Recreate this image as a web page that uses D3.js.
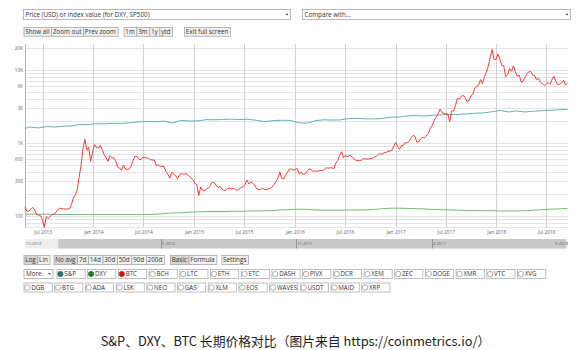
<!DOCTYPE html>
<html>
<head>
<meta charset="utf-8">
<script src="https://cdn.jsdelivr.net/npm/d3@7"></script>
<style>
  html, body { margin: 0; padding: 0; background: #fff; }
  svg { display: block; font-family: "Open Sans", "DejaVu Sans", sans-serif; }
</style>
</head>
<body>
<svg id="chart" width="580" height="350"></svg>
<script>
// ---------- data ----------
const priceOptionLabel = "Price (USD) or index value (for DXY, SP500)";
const compareLabel = "Compare with...";
const zoomButtons = ["Show all", "Zoom out", "Prev zoom"];
const periodButtons = ["1m", "3m", "1y", "ytd"];
const screenButtons = ["Exit full screen"];
const scaleButtons = ["Log", "Lin"];
const avgButtons = ["No avg", "7d", "14d", "30d", "50d", "90d", "200d"];
const modeButtons = ["Basic", "Formula"];
const settingsButtons = ["Settings"];
const moreLabel = "More";
const assetRow1 = ["S&P", "DXY", "BTC", "BCH", "LTC", "ETH", "ETC", "DASH", "PIVX", "DCR", "XEM", "ZEC", "DOGE", "XMR", "VTC", "XVG"];
const assetRow2 = ["DGB", "BTG", "ADA", "LSK", "NEO", "GAS", "XLM", "EOS", "WAVES", "USDT", "MAID", "XRP"];
const activeAssets = ["S&P", "DXY", "BTC"];

const yTickValues = [100, 300, 600, 1000, 3000, 6000, 10000, 20000];
const rangeTickDates = ["2012-12-20", "2014-05-31", "2015-11-07", "2017-04-18", "2018-09-28"];

const seriesStart = "2013-04-28";
const seriesEnd = "2018-09-16";

// S&P 500 and DXY: first day, mid-month May 2013 .. Aug 2018, last day
const spx = [
  1590, 1650, 1610, 1680, 1660, 1700, 1720, 1795, 1790,
  1840, 1830, 1860, 1860, 1890, 1950, 1975, 1950, 1995, 1880, 2040, 2000,
  2010, 2090, 2080, 2100, 2120, 2100, 2110, 2050, 1960, 2030, 2050, 2040,
  1900, 1860, 2020, 2080, 2060, 2070, 2160, 2180, 2140, 2140, 2180, 2260,
  2270, 2350, 2380, 2340, 2400, 2430, 2460, 2460, 2500, 2560, 2580, 2675,
  2790, 2660, 2750, 2660, 2720, 2770, 2800, 2850, 2905
];
const dxy = [
  106, 106, 106, 106, 105, 105, 105, 105, 105,
  105, 105, 105, 105, 105, 105, 105, 106, 108, 110, 111, 113,
  114, 115, 115, 115, 116, 116, 117, 117, 118, 119, 121, 122,
  124, 123, 121, 120, 120, 120, 121, 121, 121, 123, 126, 128,
  128, 127, 126, 125, 123, 122, 121, 120, 119, 119, 118, 118,
  117, 117, 117, 118, 120, 122, 124, 125, 127
];

// BTC weekly closes, one list per year with the date of its first week
const btc2013 = [
  135, 115, 117, 123, 131,
  122, 105, 103, 102, 90,
  70, 98, 92, 98,
  105, 105, 113, 122,
  128, 126, 126, 124, 125,
  125, 143, 175, 195,
  225, 335, 490, 820,
  1130, 800, 870, 560, 740
];
const btc2014 = [
  950, 870, 850, 920,
  820, 690, 630, 560,
  670, 630, 625, 570, 470,
  455, 420, 500, 440,
  435, 440, 485, 580,
  660, 655, 600, 590, 635,
  630, 625, 620, 590,
  585, 585, 490, 505, 480,
  480, 475, 405, 375,
  330, 395, 385, 355,
  325, 365, 385, 370, 380,
  375, 350, 330, 315
];
const btc2015 = [
  280, 270, 190, 250,
  225, 220, 235, 240,
  260, 290, 285, 265, 245,
  255, 235, 225, 225,
  240, 240, 235, 240, 230,
  225, 235, 245, 255,
  270, 310, 275, 290,
  280, 265, 235, 230, 230,
  240, 230, 230, 235,
  240, 250, 270, 295,
  330, 400, 330, 320, 365,
  395, 440, 440, 425
];
const btc2016 = [
  430, 450, 380, 395, 375,
  375, 405, 440, 435,
  410, 415, 410, 415,
  420, 420, 430, 460,
  450, 458, 455, 445, 530,
  575, 680, 760, 630,
  670, 650, 675, 660, 625,
  590, 570, 580, 575,
  610, 605, 605, 605,
  610, 618, 640, 655, 700,
  710, 705, 735, 740,
  765, 780, 790, 895
];
const btc2017 = [
  1020, 900, 820, 920, 920,
  1020, 1000, 1060, 1180,
  1270, 1230, 1020, 1040,
  1140, 1200, 1180, 1250, 1350,
  1600, 1750, 2050, 2250,
  2500, 2900, 2600, 2550,
  2500, 2500, 1950, 2750, 2750,
  3250, 4100, 4000, 4350,
  4500, 4150, 3700, 3800,
  4400, 4700, 5700, 6000, 6150,
  7400, 6500, 8200, 9300,
  11300, 15000, 19100, 13900, 14000
];
const btc2018 = [
  16500, 14200, 11500, 11400,
  8100, 8600, 10400, 9600,
  11400, 9500, 8200, 8500,
  6850, 7000, 8000, 8900, 9400,
  9600, 8500, 8400, 7350,
  7700, 6800, 6500, 6150,
  6350, 6750, 6350, 7400, 8200,
  7000, 6300, 6400, 6700,
  7200, 6250, 6500
];
const btcYears = [
  ["2013-04-28", btc2013],
  ["2014-01-05", btc2014],
  ["2015-01-04", btc2015],
  ["2016-01-03", btc2016],
  ["2017-01-01", btc2017],
  ["2018-01-07", btc2018]
];

// ---------- build series ----------
const parse = d3.utcParse("%Y-%m-%d");
const start = parse(seriesStart), end = parse(seriesEnd);

function indexDates(n) {
  const out = [start];
  for (let i = 0; i < n - 2; i++) out.push(d3.utcMonth.offset(new Date(Date.UTC(2013, 4, 15)), i));
  out.push(end);
  return out;
}
const idxDates = indexDates(spx.length);
const spxSeries = spx.map((v, i) => ({ date: idxDates[i], value: v }));
const dxySeries = dxy.map((v, i) => ({ date: idxDates[i], value: v }));
const btcSeries = [];
btcYears.forEach(([d0, vals]) => {
  const s = parse(d0);
  vals.forEach((v, i) => btcSeries.push({ date: d3.utcDay.offset(s, 7 * i), value: v }));
});

// ---------- layout ----------
const svg = d3.select("#chart");
const plot = { left: 25, right: 568, top: 44, bottom: 228 };

const x = d3.scaleUtc().domain([start, parse("2018-09-18")]).range([plot.left, plot.right]);
const y = d3.scaleLog().domain([68.5, 22700]).range([plot.bottom, plot.top]);

// ---------- grid ----------
const grid = svg.append("g");
const minorValues = [];
for (let p = 1; p <= 4; p++) for (let k = 1; k <= 9; k++) {
  const v = k * Math.pow(10, p);
  if (v >= 68.5 && v <= 22700) minorValues.push(v);
}
grid.selectAll("line.h").data(minorValues).join("line")
  .attr("x1", plot.left).attr("x2", plot.right)
  .attr("y1", d => Math.round(y(d)) + 0.5).attr("y2", d => Math.round(y(d)) + 0.5)
  .attr("stroke", "#e4e4e4").attr("stroke-width", 1);

const xTicks = d3.utcMonth.every(6).range(parse("2013-05-01"), parse("2018-09-01"));
grid.selectAll("line.v").data(xTicks).join("line")
  .attr("x1", d => Math.round(x(d)) + 0.5).attr("x2", d => Math.round(x(d)) + 0.5)
  .attr("y1", plot.top).attr("y2", plot.bottom)
  .attr("stroke", "#d2d2d2").attr("stroke-width", 1);

// y axis line
svg.append("line")
  .attr("x1", plot.left + 0.5).attr("x2", plot.left + 0.5)
  .attr("y1", plot.top).attr("y2", plot.bottom)
  .attr("stroke", "#b8b8b8");

// ---------- axes ----------
const fmtY = d => d >= 1000 ? (d / 1000) + "K" : String(d);
const yAxis = svg.append("g").attr("transform", `translate(${plot.left - 2},0)`)
  .call(d3.axisLeft(y).tickValues(yTickValues).tickFormat(fmtY).tickSize(0).tickPadding(0));
yAxis.select(".domain").remove();
yAxis.selectAll("text").attr("font-size", 4.7).attr("fill", "#666")
  .attr("font-family", "'Open Sans', sans-serif");

const xAxis = svg.append("g").attr("transform", `translate(0,${plot.bottom + 1})`)
  .call(d3.axisBottom(x).tickValues(xTicks).tickFormat(d3.utcFormat("%b %Y")).tickSize(0).tickPadding(2));
xAxis.select(".domain").remove();
xAxis.selectAll("text").attr("font-size", 4.8).attr("fill", "#666")
  .attr("font-family", "'Open Sans', sans-serif");

// ---------- lines ----------
const line = d3.line().x(d => x(d.date)).y(d => y(d.value));
svg.append("path").datum(dxySeries).attr("d", line)
  .attr("fill", "none").attr("stroke", "#62b862").attr("stroke-width", 0.9);
svg.append("path").datum(spxSeries).attr("d", line)
  .attr("fill", "none").attr("stroke", "#4eabab").attr("stroke-width", 0.9);
svg.append("path").datum(btcSeries).attr("d", line)
  .attr("fill", "none").attr("stroke", "#f23030").attr("stroke-width", 0.95)
  .attr("stroke-linejoin", "round");

// ---------- range selector ----------
const xr = d3.scaleUtc().domain([parse(rangeTickDates[0]), parse(rangeTickDates[rangeTickDates.length - 1])])
  .range([plot.left, plot.right]);
const sel = svg.append("g");
sel.append("rect").attr("x", plot.left).attr("y", 239).attr("width", plot.right - plot.left).attr("height", 9.5)
  .attr("fill", "#eeeeee");
sel.append("rect").attr("x", xr(start)).attr("y", 239).attr("width", xr(end) - xr(start) + 1).attr("height", 9.5)
  .attr("fill", "#c9c9c9");
const rTicks = rangeTickDates.map(parse);
sel.selectAll("line").data(rTicks.slice(1, -1)).join("line")
  .attr("x1", d => Math.round(xr(d)) + 0.5).attr("x2", d => Math.round(xr(d)) + 0.5)
  .attr("y1", 239).attr("y2", 248.5).attr("stroke", "#8a8a8a").attr("stroke-width", 0.8);
sel.selectAll("text").data(rTicks).join("text")
  .attr("x", (d, i) => i === rTicks.length - 1 ? xr(d) : xr(d) + 1)
  .attr("y", 245.3)
  .attr("text-anchor", (d, i) => i === rTicks.length - 1 ? "end" : "start")
  .attr("font-size", 4.1).attr("fill", "#666")
  .text(d3.utcFormat("%-m-%Y"));

// ---------- controls ----------
const ui = svg.append("g").attr("font-size", 6.3).attr("fill", "#333");

function caret(g, cx, cy) {
  g.append("path").attr("d", `M${cx - 1.3},${cy - 0.7}L${cx + 1.3},${cy - 0.7}L${cx},${cy + 0.9}Z`).attr("fill", "#222");
}
function selectBox(g, x0, y0, w, h, label) {
  g.append("rect").attr("x", x0 + 0.5).attr("y", y0 + 0.5).attr("width", w).attr("height", h)
    .attr("fill", "#fff").attr("stroke", "#a9a9a9").attr("stroke-width", 0.8);
  g.append("text").attr("x", x0 + 2.5).attr("y", y0 + h / 2 + 2.6).text(label);
  caret(g, x0 + w - 3, y0 + h / 2 + 0.5);
}
function buttonGroup(g, labels, x0, y0, h, active, pad) {
  let cx = x0;
  labels.forEach(lab => {
    const t = g.append("text").attr("y", y0 + h / 2 + 2.2).text(lab);
    const w = t.node().getComputedTextLength() + 2 * pad;
    g.insert("rect", "text").attr("x", cx + 0.5).attr("y", y0 + 0.5).attr("width", w).attr("height", h)
      .attr("fill", active.includes(lab) ? "#d5d5d5" : "#f0f0f0")
      .attr("stroke", "#a9a9a9").attr("stroke-width", 0.8);
    t.attr("x", cx + pad);
    cx += w;
  });
  return cx;
}

selectBox(ui, 23, 9, 267, 10, priceOptionLabel);
selectBox(ui, 302, 9, 268, 10, compareLabel);

let bx = buttonGroup(ui, zoomButtons, 23.5, 27, 8.8, [], 1.7);
bx = buttonGroup(ui, periodButtons, bx + 6, 27, 8.8, [], 1.7);
buttonGroup(ui, screenButtons, bx + 12, 27, 8.8, [], 1.7);

bx = buttonGroup(ui, scaleButtons, 23.5, 255, 9, ["Log"], 1.7);
bx = buttonGroup(ui, avgButtons, bx + 4, 255, 9, ["No avg"], 1.7);
bx = buttonGroup(ui, modeButtons, bx + 6, 255, 9, ["Basic"], 1.7);
buttonGroup(ui, settingsButtons, bx + 5, 255, 9, [], 1.7);

selectBox(ui, 23.5, 269, 29, 9, moreLabel);

const chipColor = { "S&P": "#0d7f7f", "DXY": "#0f860f", "BTC": "#ff0000" };
function chipRow(labels, x0, y0) {
  const step = 30.7, w = 28.2, h = 9;
  labels.forEach((lab, i) => {
    const cx = x0 + i * step;
    const g = ui.append("g");
    g.append("rect").attr("x", cx + 0.5).attr("y", y0 + 0.5).attr("width", w).attr("height", h)
      .attr("fill", "#fff").attr("stroke", "#b0b0b0").attr("stroke-width", 0.8);
    g.append("circle").attr("cx", cx + 3.9).attr("cy", y0 + h / 2 + 0.5).attr("r", 2.7)
      .attr("fill", activeAssets.includes(lab) ? chipColor[lab] : "#fff")
      .attr("stroke", activeAssets.includes(lab) ? "#555" : "#777").attr("stroke-width", 0.6);
    g.append("text").attr("x", cx + 7.8).attr("y", y0 + h / 2 + 2.7).attr("font-size", 6.2).text(lab);
  });
}
chipRow(assetRow1, 56.5, 269);
chipRow(assetRow2, 23.5, 282.5);

// ---------- caption ----------
svg.append("text")
  .attr("x", 295.5).attr("y", 345.5)
  .attr("text-anchor", "middle")
  .attr("font-family", "'Noto Sans CJK SC', sans-serif")
  .attr("font-size", 12.8)
  .attr("fill", "#1e1e1e")
  .text("S&P、DXY、BTC 长期价格对比（图片来自 https://coinmetrics.io/）");
</script>
</body>
</html>
